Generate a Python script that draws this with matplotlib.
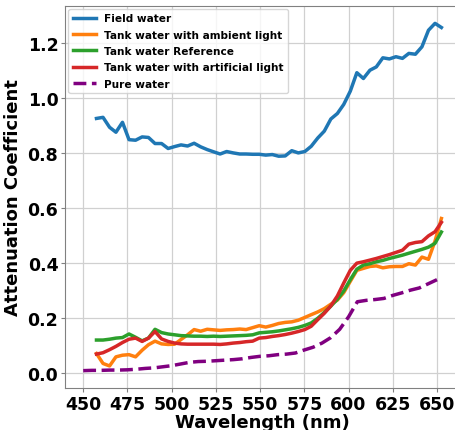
import numpy as np
import matplotlib
matplotlib.use("Agg")
import matplotlib.pyplot as plt

# wavelengths of the measured spectra (nm)
wl = [457.5, 461.2, 464.9, 468.5, 472.2, 475.9, 479.6, 483.3, 486.9, 490.6,
      494.3, 498.0, 501.7, 505.3, 509.0, 512.7, 516.4, 520.1, 523.7, 527.4,
      531.1, 534.8, 538.5, 542.1, 545.8, 549.5, 553.2, 556.9, 560.5, 564.2,
      567.9, 571.6, 575.3, 578.9, 582.6, 586.3, 590.0, 593.7, 597.3, 601.0,
      604.7, 608.4, 612.1, 615.7, 619.4, 623.1, 626.8, 630.5, 634.1, 637.8,
      641.5, 645.2, 648.9, 652.5]

field = [0.925, 0.929, 0.893, 0.875, 0.911, 0.848, 0.846, 0.858, 0.856, 0.834,
         0.834, 0.816, 0.823, 0.829, 0.825, 0.835, 0.822, 0.812, 0.804, 0.796,
         0.805, 0.800, 0.796, 0.796, 0.795, 0.795, 0.792, 0.794, 0.788, 0.789,
         0.808, 0.800, 0.805, 0.824, 0.854, 0.879, 0.923, 0.943, 0.976, 1.024,
         1.091, 1.070, 1.100, 1.112, 1.145, 1.141, 1.149, 1.143, 1.161, 1.158,
         1.185, 1.245, 1.270, 1.255]

ambient = [0.072, 0.036, 0.027, 0.060, 0.066, 0.068, 0.060, 0.084, 0.104, 0.117,
           0.107, 0.105, 0.106, 0.123, 0.140, 0.159, 0.153, 0.160, 0.158, 0.156,
           0.158, 0.159, 0.161, 0.159, 0.166, 0.173, 0.168, 0.174, 0.181, 0.185,
           0.187, 0.193, 0.203, 0.213, 0.223, 0.235, 0.251, 0.266, 0.293, 0.334,
           0.374, 0.381, 0.388, 0.390, 0.383, 0.387, 0.388, 0.388, 0.398, 0.393,
           0.422, 0.414, 0.480, 0.562]

reference = [0.121, 0.121, 0.124, 0.128, 0.130, 0.143, 0.131, 0.118, 0.128, 0.160,
             0.148, 0.143, 0.140, 0.137, 0.136, 0.135, 0.135, 0.134, 0.135, 0.134,
             0.135, 0.136, 0.137, 0.138, 0.140, 0.147, 0.149, 0.151, 0.154, 0.158,
             0.162, 0.167, 0.174, 0.183, 0.200, 0.221, 0.244, 0.269, 0.299, 0.340,
             0.378, 0.393, 0.398, 0.405, 0.410, 0.417, 0.423, 0.429, 0.436, 0.443,
             0.450, 0.458, 0.472, 0.513]

artificial = [0.070, 0.075, 0.086, 0.098, 0.112, 0.124, 0.128, 0.116, 0.128, 0.152,
              0.125, 0.116, 0.110, 0.107, 0.106, 0.106, 0.106, 0.106, 0.106, 0.105,
              0.107, 0.110, 0.112, 0.115, 0.117, 0.128, 0.130, 0.134, 0.137, 0.141,
              0.146, 0.152, 0.159, 0.171, 0.195, 0.218, 0.245, 0.281, 0.328, 0.374,
              0.400, 0.405, 0.411, 0.417, 0.424, 0.431, 0.439, 0.447, 0.469, 0.475,
              0.478, 0.499, 0.514, 0.548]

# pure water reference spectrum
wl_pure = [450, 455, 460, 465, 470, 475, 480, 485, 490, 495, 500, 505, 510, 515,
           520, 525, 530, 535, 540, 545, 550, 555, 560, 565, 570, 575, 580, 585,
           590, 595, 600, 605, 610, 615, 620, 625, 630, 635, 640, 645, 650]
pure = [0.010, 0.011, 0.011, 0.012, 0.012, 0.013, 0.015, 0.018, 0.020, 0.024,
        0.028, 0.034, 0.040, 0.043, 0.044, 0.046, 0.048, 0.050, 0.053, 0.058,
        0.062, 0.064, 0.068, 0.070, 0.074, 0.085, 0.095, 0.110, 0.130, 0.160,
        0.205, 0.260, 0.265, 0.268, 0.272, 0.283, 0.292, 0.302, 0.310, 0.325,
        0.340]

fig = plt.figure(figsize=(4.56, 4.31), dpi=100)
ax = fig.add_axes([65.3/456, 42/431, 394/456, 382/431])

lw = 2.5
ax.plot(wl, field, color='tab:blue', lw=lw, label='Field water')
ax.plot(wl, ambient, color='tab:orange', lw=lw, label='Tank water with ambient light')
ax.plot(wl, reference, color='tab:green', lw=lw, label='Tank water Reference')
ax.plot(wl, artificial, color='tab:red', lw=lw, label='Tank water with artificial light')
ax.plot(wl_pure, pure, color='purple', lw=lw, ls='--', label='Pure water')

ax.set_xticks([450, 475, 500, 525, 550, 575, 600, 625, 650])
ax.set_yticks([0.0, 0.2, 0.4, 0.6, 0.8, 1.0, 1.2])
ax.grid(True, color='#d0d0d0', lw=0.9)
ax.set_axisbelow(True)
for s in ax.spines.values():
    s.set_color('#808080')
ax.tick_params(colors='#808080', labelcolor='black', length=3, pad=2)
for lab in ax.get_xticklabels() + ax.get_yticklabels():
    lab.set_fontsize(12.5)
    lab.set_fontweight('bold')

ax.set_xlabel('Wavelength (nm)', fontsize=13, fontweight='bold', labelpad=0)
ax.set_ylabel('Attenuation Coefficient', fontsize=13, fontweight='bold', labelpad=4)

ax.legend(loc='upper left', prop={'weight': 'bold', 'size': 7.6},
          handlelength=2.2, borderaxespad=0.3, labelspacing=0.6)

fig.savefig('out.png', dpi=100)
